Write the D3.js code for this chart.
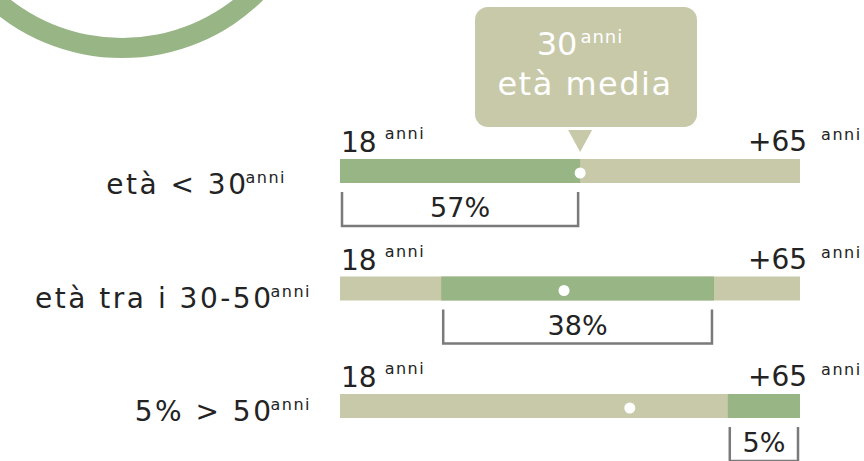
<!DOCTYPE html>
<html>
<head>
<meta charset="utf-8">
<script src="https://cdn.jsdelivr.net/npm/d3@7"></script>
<style>
  html, body { margin: 0; padding: 0; background: #fff; }
  svg { display: block; }
  text { font-family: "DejaVu Sans", Inter, sans-serif; font-weight: 400; fill: #232323; }
</style>
</head>
<body>
<svg id="chart" width="864" height="461"></svg>
<script>
// Age groups and where each group's band sits on the 18 → 65+ strip (0–100)
const categories = ["età < 30", "età tra i 30-50", "5% > 50"];
const segStart = [0, 22, 84.3];
const segEnd = [52.2, 81.3, 100];
// Marker for each group on the same strip
const dotPos = [52.2, 48.7, 63];
// Share of people in each group
const shareLabels = ["57%", "38%", "5%"];
// Strip end labels
const rangeLabels = ["18", "+65"];
const unit = "anni";
// Average age callout
const meanAge = "30";
const meanLabel = "età media";

const GREEN = "#98b585";
const KHAKI = "#c8c9a9";
const GREY = "#7a7a7a";

const svg = d3.select("#chart");

// Decorative ring in the top-left corner
svg.append("path")
  .attr("transform", "translate(122,-143)")
  .attr("d", d3.arc()({ innerRadius: 181, outerRadius: 201, startAngle: 0, endAngle: 2 * Math.PI }))
  .attr("fill", GREEN);

const x = d3.scaleLinear().domain([0, 100]).range([340, 800]);
const y = d3.scalePoint().domain(categories).range([159, 394]);
const barH = 24;

const rows = svg.selectAll("g.row")
  .data(categories.map((c, i) => ({ c, i })))
  .join("g")
  .attr("class", "row")
  .attr("transform", d => `translate(0,${y(d.c)})`);

// Full strip
rows.append("rect")
  .attr("x", x(0)).attr("y", 0)
  .attr("width", x(100) - x(0)).attr("height", barH)
  .attr("fill", KHAKI);

// Group band
rows.append("rect")
  .attr("x", d => x(segStart[d.i])).attr("y", 0)
  .attr("width", d => x(segEnd[d.i]) - x(segStart[d.i])).attr("height", barH)
  .attr("fill", GREEN);

// Marker dot
rows.append("circle")
  .attr("cx", d => x(dotPos[d.i])).attr("cy", barH / 2 + 2)
  .attr("r", 5.5)
  .attr("fill", "#fff");

// End labels above the strip
const left = rows.append("text")
  .attr("x", x(0) + 1).attr("y", -7)
  .style("font-size", "28px");
left.append("tspan").text(rangeLabels[0]);
left.append("tspan").attr("dx", 8).attr("dy", -13)
  .style("font-size", "16px").style("letter-spacing", "1.5px").text(unit);

const right = rows.append("text")
  .attr("x", 748).attr("y", -8)
  .style("font-size", "28px");
right.append("tspan").text(rangeLabels[1]);
right.append("tspan").attr("dx", 14).attr("dy", -11)
  .style("font-size", "16px").style("letter-spacing", "1.5px").text(unit);

// Bracket under the group band with its share
const bracketTop = barH + 9, bracketBot = barH + 43;
rows.append("path")
  .attr("d", d => {
    const a = x(segStart[d.i]) + 2, b = x(segEnd[d.i]) - 2;
    return `M${a},${bracketTop}V${bracketBot}H${b}V${bracketTop}`;
  })
  .attr("fill", "none")
  .attr("stroke", GREY)
  .attr("stroke-width", 2.5);

rows.append("text")
  .attr("x", d => (x(segStart[d.i]) + x(segEnd[d.i])) / 2)
  .attr("y", barH + 34)
  .attr("text-anchor", "middle")
  .style("font-size", "27px")
  .text(d => shareLabels[d.i]);

// Category labels on the left (right edge and baseline per row)
const catRight = [286, 311, 311];
const catBase = [35, 31, 27];
const cat = rows.append("text")
  .attr("x", d => catRight[d.i])
  .attr("y", d => catBase[d.i])
  .attr("text-anchor", "end")
  .style("font-size", "28px")
  .style("letter-spacing", "2.5px");
cat.append("tspan").text(d => d.c);
cat.append("tspan").attr("dx", -3).attr("dy", -11)
  .style("font-size", "16px").style("letter-spacing", "1.5px").text(unit);

// Average age callout above the first strip
const cx = x(dotPos[0]);
const callout = svg.append("g");
callout.append("rect")
  .attr("x", 475).attr("y", 7)
  .attr("width", 222).attr("height", 120)
  .attr("rx", 13)
  .attr("fill", KHAKI);
callout.append("path")
  .attr("d", `M${cx - 12},130L${cx + 12},130L${cx},152Z`)
  .attr("fill", KHAKI);

const t1 = callout.append("text")
  .attr("x", 580).attr("y", 55)
  .attr("text-anchor", "middle")
  .style("font-size", "32px").style("fill", "#fff");
t1.append("tspan").text(meanAge);
t1.append("tspan").attr("dx", 3).attr("dy", -12)
  .style("font-size", "18px").style("letter-spacing", "1px").style("fill", "#fff").text(unit);

callout.append("text")
  .attr("x", 585).attr("y", 95)
  .attr("text-anchor", "middle")
  .style("font-size", "32px").style("fill", "#fff")
  .style("letter-spacing", "1.5px")
  .text(meanLabel);
</script>
</body>
</html>
